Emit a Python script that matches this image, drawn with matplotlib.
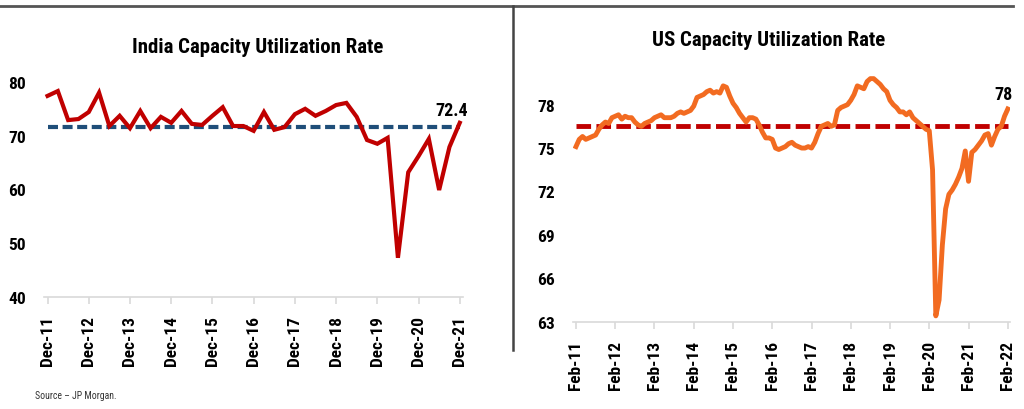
import matplotlib
matplotlib.use('Agg')
import matplotlib.pyplot as plt
from matplotlib.lines import Line2D

plt.rcParams['font.family'] = ['Roboto Condensed', 'Archivo Narrow', 'Roboto', 'DejaVu Sans']

# India capacity utilisation, quarterly Dec-11 .. Dec-21
india_vals = [77.4, 78.3, 72.9, 73.1, 74.4, 78.0, 71.8, 73.7, 71.4, 74.6,
              71.4, 73.5, 72.4, 74.6, 72.2, 72.0, 73.7, 75.3, 71.8, 71.8,
              70.9, 74.4, 71.1, 71.6, 74.0, 75.0, 73.7, 74.6, 75.7, 76.1,
              73.5, 69.2, 68.5, 69.6, 47.3, 63.2, 66.2, 69.4, 59.9, 67.9,
              72.4]
india_ticks = ['Dec-11', 'Dec-12', 'Dec-13', 'Dec-14', 'Dec-15', 'Dec-16',
               'Dec-17', 'Dec-18', 'Dec-19', 'Dec-20', 'Dec-21']
india_avg = 71.7

# US capacity utilisation, monthly Feb-11 .. Feb-22
us_vals = [75.1, 75.6, 75.8, 75.6, 75.7, 75.8, 75.9, 76.3, 76.6, 76.8,
           76.7, 77.1, 77.2, 77.3, 77.0, 77.2, 77.1, 77.1, 76.8, 76.6,
           76.5, 76.7, 76.8, 76.9, 77.1, 77.2, 77.3, 77.1, 77.1, 77.1,
           77.2, 77.4, 77.5, 77.4, 77.5, 77.6, 77.9, 78.5, 78.6, 78.7,
           78.9, 79.0, 78.8, 78.9, 78.8, 79.3, 79.2, 78.6, 78.1, 77.8,
           77.4, 77.1, 76.8, 77.1, 77.1, 77.0, 76.6, 76.1, 75.7, 75.7,
           75.6, 75.0, 74.9, 75.0, 75.1, 75.3, 75.4, 75.2, 75.1, 75.0,
           75.0, 75.1, 75.0, 75.4, 76.0, 76.5, 76.6, 76.7, 76.5, 76.6,
           77.6, 77.8, 77.9, 78.0, 78.3, 78.7, 79.3, 79.2, 79.1, 79.6,
           79.8, 79.8, 79.6, 79.4, 79.1, 78.9, 78.3, 78.0, 77.8, 77.5,
           77.5, 77.3, 77.5, 77.1, 76.9, 76.7, 76.5, 76.3, 76.2, 73.5,
           63.4, 64.5, 68.3, 70.8, 71.8, 72.1, 72.5, 73.0, 73.6, 74.8,
           72.7, 74.7, 74.9, 75.2, 75.5, 75.9, 76.0, 75.2, 75.8, 76.3,
           76.5, 77.2, 77.7]
us_ticks = ['Feb-11', 'Feb-12', 'Feb-13', 'Feb-14', 'Feb-15', 'Feb-16',
            'Feb-17', 'Feb-18', 'Feb-19', 'Feb-20', 'Feb-21', 'Feb-22']
us_avg = 76.5

fig = plt.figure(figsize=(10.24, 4.10), dpi=100)

# frame lines of the page
fig.add_artist(Line2D([0, 0.989], [0.983, 0.983], color='#555555', lw=2))
fig.add_artist(Line2D([0.501, 0.501], [0.145, 0.983], color='#444444', lw=1.8))


def style_axis(ax):
    for s in ['left', 'right', 'top']:
        ax.spines[s].set_visible(False)
    ax.spines['bottom'].set_color('#D9D9D9')
    ax.spines['bottom'].set_linewidth(1.2)
    ax.tick_params(axis='y', length=0, labelsize=12.5, pad=13)
    ax.tick_params(axis='x', length=5, color='#D9D9D9', width=1.2,
                   labelsize=12.5, pad=8, labelrotation=90)
    for lab in ax.get_xticklabels() + ax.get_yticklabels():
        lab.set_fontweight('bold')


# India
ax1 = fig.add_axes([0.043, 0.273, 0.409, 0.551])
xq = list(range(len(india_vals)))
ax1.plot(xq, india_vals, color='#C00000', lw=3, solid_joinstyle='miter', zorder=3)
ax1.plot([xq[0], xq[-1]], [india_avg, india_avg], color='#1F4E79', lw=3,
         dashes=(2.4, 1.1), zorder=2)
ax1.set_xlim(-0.34, 40.3)
ax1.set_ylim(40, 82)
ax1.set_yticks([40, 50, 60, 70, 80])
ax1.set_xticks(range(0, 41, 4))
ax1.set_xticklabels(india_ticks)
style_axis(ax1)
ax1.annotate('72.4', (xq[-1], india_vals[-1]), xytext=(-6, 3),
             textcoords='offset points', ha='center', va='bottom',
             fontsize=13, fontweight='bold')
fig.text(0.252, 0.883, 'India Capacity Utilization Rate', ha='center',
         va='center', fontsize=15, fontweight='bold')

# US
ax2 = fig.add_axes([0.5596, 0.213, 0.4268, 0.6175])
xm = list(range(len(us_vals)))
ax2.plot(xm, us_vals, color='#F26B21', lw=3.5, zorder=3)
ax2.plot([xm[0], xm[-1]], [us_avg, us_avg], color='#C00000', lw=3.5,
         dashes=(3.0, 1.1), zorder=2)
ax2.set_xlim(-0.9, 132.7)
ax2.set_ylim(63, 80.5)
ax2.set_yticks([63, 66, 69, 72, 75, 78])
ax2.set_xticks(range(0, 133, 12))
ax2.set_xticklabels(us_ticks)
style_axis(ax2)
ax2.annotate('78', (xm[-1], us_vals[-1]), xytext=(-3, 4),
             textcoords='offset points', ha='center', va='bottom',
             fontsize=13, fontweight='bold')
fig.text(0.751, 0.902, 'US Capacity Utilization Rate', ha='center',
         va='center', fontsize=15, fontweight='bold')

fig.text(0.034, 0.027, 'Source \u2013 JP Morgan.', fontsize=7, color='#333333')

fig.savefig('out.png', dpi=100)
